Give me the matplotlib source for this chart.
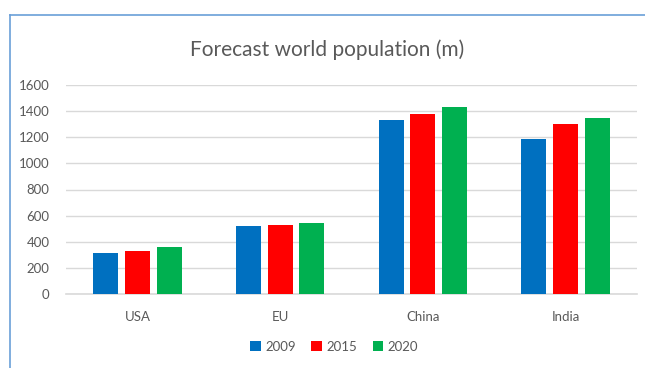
import matplotlib.pyplot as plt
import numpy as np
from matplotlib.lines import Line2D

regions = ['USA', 'EU', 'China', 'India']
years = ['2009', '2015', '2020']
pop_2009 = [312, 518, 1335, 1187]
pop_2015 = [328, 528, 1375, 1304]
pop_2020 = [360, 540, 1428, 1345]
colors = ['#0070C0', '#FF0000', '#00B050']

plt.rcParams['font.family'] = ['Lato', 'DejaVu Sans']
text_col = '#595959'

fig = plt.figure(figsize=(6.45, 3.68), dpi=100)
ax = fig.add_axes([66 / 645, 1 - 294 / 368, 571 / 645, 209 / 368])

x = np.arange(len(regions))
width = 0.175
step = 0.222
series = [pop_2009, pop_2015, pop_2020]
for i, (vals, col, yr) in enumerate(zip(series, colors, years)):
    ax.bar(x + (i - 1) * step, vals, width, color=col, label=yr, zorder=3)

ax.set_xlim(-0.5, len(regions) - 0.5)
ax.set_ylim(0, 1600)
ax.set_yticks(range(0, 1601, 200))
ax.set_xticks(x)
ax.set_xticklabels(regions)
ax.grid(axis='y', color='#D9D9D9', linewidth=1, zorder=0)
ax.tick_params(axis='both', length=0, labelsize=9.5, colors=text_col)
ax.tick_params(axis='y', pad=12)
ax.tick_params(axis='x', pad=12)
for s in ['top', 'right', 'left']:
    ax.spines[s].set_visible(False)
ax.spines['bottom'].set_color('#D9D9D9')
ax.spines['bottom'].set_linewidth(1.2)

fig.text(327 / 645, 1 - 50 / 368, 'Forecast world population (m)', ha='center', va='center',
         fontsize=15, color=text_col)

leg = fig.legend(loc='center', bbox_to_anchor=(334 / 645, 1 - 347 / 368), ncol=3, frameon=False,
                 fontsize=9.5, handlelength=0.8, handleheight=0.8, handletextpad=0.3,
                 columnspacing=1.2)
for t in leg.get_texts():
    t.set_color(text_col)

# chart border (top and left edges visible)
fig.add_artist(Line2D([10 / 645, 10 / 645], [0, 1 - 15 / 368], transform=fig.transFigure,
                      color='#6A9FD8', linewidth=1.2))
fig.add_artist(Line2D([10 / 645, 1], [1 - 15 / 368, 1 - 15 / 368], transform=fig.transFigure,
                      color='#6A9FD8', linewidth=1.2))

fig.savefig('out.png', dpi=100)
